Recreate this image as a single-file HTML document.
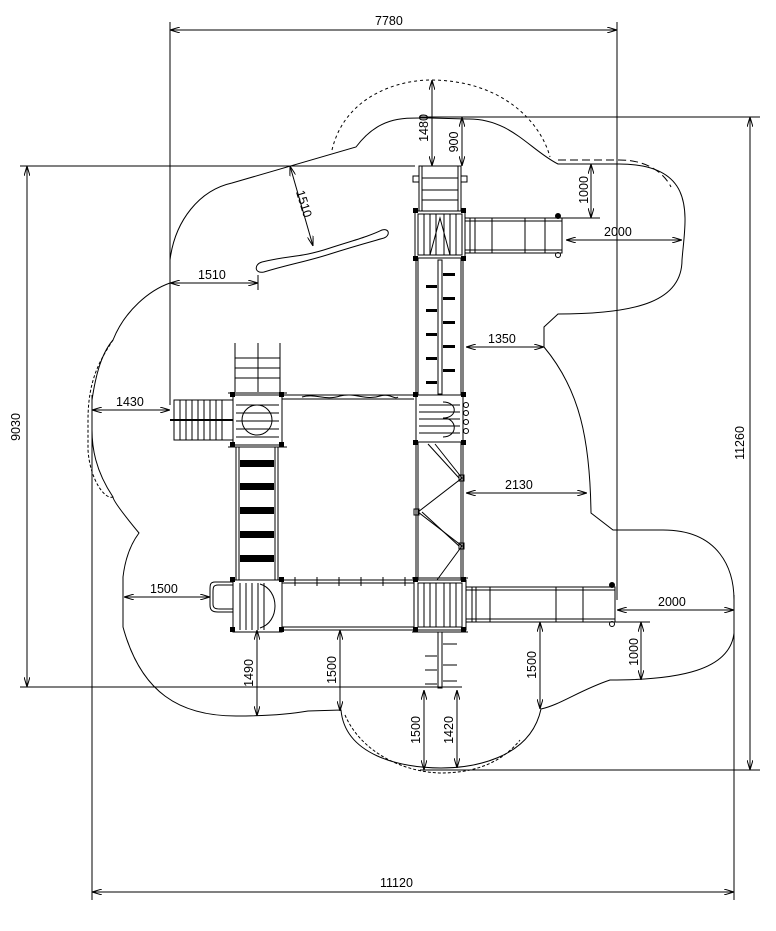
<!DOCTYPE html>
<html><head><meta charset="utf-8"><style>
html,body{margin:0;padding:0;background:#fff;}
svg{display:block;}
text{font-family:"Liberation Sans",sans-serif;font-size:12.5px;fill:#000;}
</style></head><body>
<svg width="776" height="931" viewBox="0 0 776 931" xmlns="http://www.w3.org/2000/svg">
<defs>
<marker id="a" viewBox="0 0 10 6" refX="10" refY="3" markerWidth="10" markerHeight="6" orient="auto-start-reverse" markerUnits="userSpaceOnUse"><path d="M0,0 L10,3 L0,6" fill="none" stroke="#000" stroke-width="1"/></marker>
</defs>
<g fill="none" stroke="#000" stroke-width="1">
<!-- extension lines -->
<line x1="170" y1="22" x2="170" y2="405"/>
<line x1="617" y1="22" x2="617" y2="600"/>
<line x1="20" y1="166" x2="415" y2="166"/>
<line x1="20" y1="687" x2="462" y2="687"/>
<line x1="420" y1="117" x2="760" y2="117"/>
<line x1="420" y1="770" x2="760" y2="770"/>
<line x1="92" y1="395" x2="92" y2="900"/>
<line x1="734" y1="595" x2="734" y2="900"/>
<!-- main dims -->
<line x1="170" y1="30" x2="617" y2="30" marker-start="url(#a)" marker-end="url(#a)"/>
<line x1="27" y1="166" x2="27" y2="687" marker-start="url(#a)" marker-end="url(#a)"/>
<line x1="750" y1="117" x2="750" y2="770" marker-start="url(#a)" marker-end="url(#a)"/>
<line x1="92" y1="892" x2="734" y2="892" marker-start="url(#a)" marker-end="url(#a)"/>

<!-- cloud outline -->
<path d="M356,147 C380,115 405,118 430,118 L467,119 C510,118 530,150 558,164 L619,164 C700,164 685,220 682,260 C682,300 640,314 558,314 L544,327 L544,347 C580,390 590,440 591,513 L613,530 L663,530 C720,530 734,570 734,600 L734,633 C730,670 680,680 610,680 C580,690 560,705 541,709 C530,760 470,768 441,768 C400,768 345,755 341,710 L308,711 C280,716 250,716 236,716 C180,716 141,693 123,627 L123,577 C125,560 130,545 139,533 C120,510 113,500 113,497 C95,470 92,447 92,430 L92,400 C95,380 100,355 113,340 C125,310 150,290 170,283 L170,260 C175,220 200,190 232,183 L356,147 Z"/>
<!-- dashed offsets -->
<path d="M332,150 C345,95 400,80 430,80 C500,80 540,120 550,157" stroke-dasharray="3,3"/>
<path d="M558,160 L619,160 C650,160 665,175 671,187" stroke-dasharray="8,4"/>
<path d="M113,340 C100,360 88,380 88,420 L88,450 C90,480 105,500 113,497" stroke-dasharray="3,2"/>
<path d="M345,715 C360,750 400,772 441,773 C470,773 500,765 520,740" stroke-dasharray="3,2"/>

<!-- handrail snake -->
<path d="M262,262 C290,255 300,258 330,248 C355,240 370,236 382,230 C390,228 390,236 384,238 C370,242 355,246 330,254 C305,262 290,264 264,272 C254,274 254,264 262,262 Z"/>

<!-- TOP TOWER -->
<rect x="419" y="166" width="42" height="45"/>
<line x1="422" y1="166" x2="422" y2="211"/><line x1="458" y1="166" x2="458" y2="211"/>
<line x1="422" y1="178" x2="458" y2="178"/><line x1="422" y1="190" x2="458" y2="190"/><line x1="422" y1="200" x2="458" y2="200"/>
<rect x="413" y="176" width="6" height="6"/><rect x="461" y="176" width="6" height="6"/>
<rect x="415" y="211" width="50" height="47"/>
<rect x="418" y="214" width="44" height="41"/>
<line x1="424" y1="214" x2="424" y2="255"/><line x1="430" y1="214" x2="430" y2="255"/><line x1="436" y1="214" x2="436" y2="255"/><line x1="444" y1="214" x2="444" y2="255"/><line x1="450" y1="214" x2="450" y2="255"/><line x1="456" y1="214" x2="456" y2="255"/>
<path d="M430,255 L440,218 L450,255"/>
<!-- slide top -->
<rect x="465" y="218" width="97" height="35"/>
<line x1="465" y1="221" x2="562" y2="221"/><line x1="465" y1="250" x2="562" y2="250"/>
<line x1="470" y1="218" x2="470" y2="253"/><line x1="475" y1="218" x2="475" y2="253"/><line x1="492" y1="218" x2="492" y2="253"/><line x1="525" y1="218" x2="525" y2="253"/><line x1="545" y1="218" x2="545" y2="253"/>
<circle cx="558" cy="216" r="2.5" fill="#000"/><circle cx="558" cy="255" r="2.5"/>
<!-- climbing wall -->
<line x1="416" y1="258" x2="416" y2="395"/><line x1="463" y1="258" x2="463" y2="395"/>
<line x1="418" y1="258" x2="418" y2="395"/><line x1="461" y1="258" x2="461" y2="395"/>
<rect x="438" y="260" width="4" height="134"/>
</g>
<g fill="#000">
<rect x="443" y="273" width="12" height="3"/><rect x="443" y="297" width="12" height="3"/><rect x="443" y="321" width="12" height="3"/><rect x="443" y="345" width="12" height="3"/><rect x="443" y="369" width="12" height="3"/>
<rect x="426" y="285" width="11" height="3"/><rect x="426" y="309" width="11" height="3"/><rect x="426" y="333" width="11" height="3"/><rect x="426" y="357" width="11" height="3"/><rect x="426" y="381" width="11" height="3"/>
<rect x="413" y="208" width="5" height="5"/><rect x="461" y="208" width="5" height="5"/><rect x="413" y="256" width="5" height="5"/><rect x="461" y="256" width="5" height="5"/>
<rect x="413" y="392" width="5" height="5"/><rect x="461" y="392" width="5" height="5"/><rect x="413" y="440" width="5" height="5"/><rect x="461" y="440" width="5" height="5"/>
<rect x="413" y="577" width="5" height="5"/><rect x="461" y="577" width="5" height="5"/><rect x="413" y="627" width="5" height="5"/><rect x="461" y="627" width="5" height="5"/>
<rect x="230" y="392" width="5" height="5"/><rect x="279" y="392" width="5" height="5"/><rect x="230" y="442" width="5" height="5"/><rect x="279" y="442" width="5" height="5"/>
<rect x="230" y="577" width="5" height="5"/><rect x="279" y="577" width="5" height="5"/><rect x="230" y="627" width="5" height="5"/><rect x="279" y="627" width="5" height="5"/>
<!-- black bars -->
<rect x="240" y="460" width="34" height="7"/><rect x="240" y="483" width="34" height="7"/><rect x="240" y="507" width="34" height="7"/><rect x="240" y="531" width="34" height="7"/><rect x="240" y="555" width="34" height="7"/>
</g>
<g fill="none" stroke="#000" stroke-width="1">
<!-- platform B -->
<rect x="416" y="395" width="47" height="47"/>
<line x1="419" y1="405" x2="460" y2="405"/><line x1="419" y1="412" x2="460" y2="412"/><line x1="419" y1="419" x2="460" y2="419"/><line x1="419" y1="426" x2="460" y2="426"/><line x1="419" y1="433" x2="460" y2="433"/>
<path d="M443,402 C458,402 458,418 443,418 C458,418 458,437 443,437"/>
<circle cx="466" cy="405" r="2.5"/><circle cx="466" cy="413" r="2.5"/><circle cx="466" cy="422" r="2.5"/><circle cx="466" cy="431" r="2.5"/>
<!-- truss -->
<line x1="416" y1="442" x2="416" y2="580"/><line x1="418" y1="442" x2="418" y2="580"/>
<line x1="461" y1="442" x2="461" y2="580"/><line x1="463" y1="442" x2="463" y2="580"/>
<path d="M435,444 L462,478 L418,512 L462,546 L437,580"/>
<path d="M428,444 L459,478 M422,512 L459,546"/>
<rect x="459" y="475" width="5" height="6"/><rect x="414" y="509" width="5" height="6"/><rect x="459" y="543" width="5" height="6"/>
<!-- bottom right platform -->
<rect x="414" y="580" width="52" height="50"/>
<rect x="418" y="583" width="44" height="44"/>
<line x1="424" y1="583" x2="424" y2="627"/><line x1="430" y1="583" x2="430" y2="627"/><line x1="436" y1="583" x2="436" y2="627"/><line x1="444" y1="583" x2="444" y2="627"/><line x1="450" y1="583" x2="450" y2="627"/><line x1="456" y1="583" x2="456" y2="627"/>
<line x1="412" y1="632" x2="468" y2="632"/><line x1="412" y1="578" x2="468" y2="578"/>
<!-- slide bottom -->
<rect x="466" y="587" width="149" height="35"/>
<line x1="466" y1="590" x2="615" y2="590"/><line x1="466" y1="619" x2="615" y2="619"/>
<line x1="472" y1="587" x2="472" y2="622"/><line x1="476" y1="587" x2="476" y2="622"/><line x1="490" y1="587" x2="490" y2="622"/><line x1="556" y1="587" x2="556" y2="622"/><line x1="583" y1="587" x2="583" y2="622"/>
<circle cx="612" cy="585" r="2.5" fill="#000"/><circle cx="612" cy="624" r="2.5"/>
<!-- bottom ladder -->
<rect x="438" y="632" width="4" height="56"/>
<line x1="425" y1="656" x2="437" y2="656"/><line x1="425" y1="670" x2="437" y2="670"/><line x1="425" y1="684" x2="437" y2="684"/>
<line x1="443" y1="644" x2="457" y2="644"/><line x1="443" y1="665" x2="457" y2="665"/><line x1="443" y1="681" x2="457" y2="681"/>
<!-- LEFT TOWER -->
<line x1="235" y1="343" x2="235" y2="392"/><line x1="258" y1="343" x2="258" y2="392"/><line x1="280" y1="343" x2="280" y2="392"/>
<line x1="235" y1="358" x2="280" y2="358"/><line x1="235" y1="368" x2="280" y2="368"/><line x1="235" y1="378" x2="280" y2="378"/>
<rect x="233" y="395" width="49" height="50"/>
<line x1="236" y1="405" x2="279" y2="405"/><line x1="236" y1="413" x2="279" y2="413"/><line x1="236" y1="421" x2="279" y2="421"/><line x1="236" y1="429" x2="279" y2="429"/><line x1="236" y1="437" x2="279" y2="437"/>
<circle cx="257" cy="420" r="15"/>
<line x1="228" y1="393" x2="287" y2="393"/><line x1="228" y1="447" x2="287" y2="447"/>
<!-- steps left -->
<rect x="174" y="400" width="59" height="40"/>
<line x1="180" y1="400" x2="180" y2="440"/><line x1="186" y1="400" x2="186" y2="440"/><line x1="192" y1="400" x2="192" y2="440"/><line x1="198" y1="400" x2="198" y2="440"/><line x1="204" y1="400" x2="204" y2="440"/><line x1="210" y1="400" x2="210" y2="440"/><line x1="216" y1="400" x2="216" y2="440"/><line x1="222" y1="400" x2="222" y2="440"/>
<line x1="170" y1="420" x2="233" y2="420" stroke-width="2"/>
<!-- bridge left -->
<line x1="236" y1="447" x2="236" y2="580"/><line x1="239" y1="447" x2="239" y2="580"/>
<line x1="275" y1="447" x2="275" y2="580"/><line x1="278" y1="447" x2="278" y2="580"/>
<!-- bottom left platform -->
<rect x="233" y="580" width="49" height="52"/>
<line x1="240" y1="583" x2="240" y2="630"/><line x1="246" y1="583" x2="246" y2="630"/><line x1="252" y1="583" x2="252" y2="630"/><line x1="258" y1="583" x2="258" y2="630"/><line x1="264" y1="583" x2="264" y2="630"/>
<path d="M260,584 C280,590 280,622 260,628"/>
<path d="M233,582 L215,582 C210,582 210,585 210,590 L210,605 C210,610 212,612 218,612 L233,612"/>
<path d="M233,585 L218,585 C213,585 213,588 213,592 L213,604 C213,608 215,609 220,609 L233,609"/>
<!-- top rope bridge -->
<line x1="282" y1="395" x2="414" y2="395"/><line x1="282" y1="399" x2="414" y2="399"/>
<path d="M302,397 C315,393 325,401 340,396 C355,392 365,401 380,396 C390,393 395,400 398,397"/>
<!-- bottom bridge -->
<line x1="282" y1="580" x2="414" y2="580"/><line x1="282" y1="583" x2="414" y2="583"/>
<line x1="282" y1="627" x2="414" y2="627"/><line x1="282" y1="630" x2="414" y2="630"/>
<line x1="295" y1="577" x2="295" y2="586"/><line x1="317" y1="577" x2="317" y2="586"/><line x1="339" y1="577" x2="339" y2="586"/><line x1="361" y1="577" x2="361" y2="586"/><line x1="383" y1="577" x2="383" y2="586"/><line x1="405" y1="577" x2="405" y2="586"/>

<!-- small dims -->
<line x1="432" y1="80" x2="432" y2="166" marker-start="url(#a)" marker-end="url(#a)"/>
<line x1="462" y1="117" x2="462" y2="166" marker-start="url(#a)" marker-end="url(#a)"/>
<line x1="591" y1="164" x2="591" y2="218" marker-start="url(#a)" marker-end="url(#a)"/>
<line x1="560" y1="218" x2="600" y2="218"/>
<line x1="566" y1="240" x2="682" y2="240" marker-start="url(#a)" marker-end="url(#a)"/>
<line x1="290" y1="166" x2="313" y2="246" marker-start="url(#a)" marker-end="url(#a)"/>
<line x1="170" y1="283" x2="258" y2="283" marker-start="url(#a)" marker-end="url(#a)"/>
<line x1="258" y1="275" x2="258" y2="290"/>
<line x1="466" y1="347" x2="544" y2="347" marker-start="url(#a)" marker-end="url(#a)"/>
<line x1="92" y1="410" x2="170" y2="410" marker-start="url(#a)" marker-end="url(#a)"/>
<line x1="466" y1="493" x2="587" y2="493" marker-start="url(#a)" marker-end="url(#a)"/>
<line x1="124" y1="597" x2="210" y2="597" marker-start="url(#a)" marker-end="url(#a)"/>
<line x1="617" y1="610" x2="734" y2="610" marker-start="url(#a)" marker-end="url(#a)"/>
<line x1="615" y1="622" x2="650" y2="622"/>
<line x1="641" y1="622" x2="641" y2="680" marker-start="url(#a)" marker-end="url(#a)"/>
<line x1="257" y1="630" x2="257" y2="716" marker-start="url(#a)" marker-end="url(#a)"/>
<line x1="340" y1="630" x2="340" y2="711" marker-start="url(#a)" marker-end="url(#a)"/>
<line x1="540" y1="622" x2="540" y2="709" marker-start="url(#a)" marker-end="url(#a)"/>
<line x1="424" y1="690" x2="424" y2="770" marker-start="url(#a)" marker-end="url(#a)"/>
<line x1="457" y1="690" x2="457" y2="768" marker-start="url(#a)" marker-end="url(#a)"/>
</g>

<!-- labels -->
<text x="375" y="25">7780</text>
<text x="380" y="887">11120</text>
<text transform="translate(20,427) rotate(-90)" text-anchor="middle">9030</text>
<text transform="translate(744,443) rotate(-90)" text-anchor="middle">11260</text>
<text transform="translate(428,128) rotate(-90)" text-anchor="middle">1480</text>
<text transform="translate(458,142) rotate(-90)" text-anchor="middle">900</text>
<text transform="translate(588,190) rotate(-90)" text-anchor="middle">1000</text>
<text x="604" y="236">2000</text>
<text transform="translate(300,205) rotate(73)" text-anchor="middle">1510</text>
<text x="198" y="279">1510</text>
<text x="488" y="343">1350</text>
<text x="116" y="406">1430</text>
<text x="505" y="489">2130</text>
<text x="150" y="593">1500</text>
<text x="658" y="606">2000</text>
<text transform="translate(638,652) rotate(-90)" text-anchor="middle">1000</text>
<text transform="translate(253,673) rotate(-90)" text-anchor="middle">1490</text>
<text transform="translate(336,670) rotate(-90)" text-anchor="middle">1500</text>
<text transform="translate(536,665) rotate(-90)" text-anchor="middle">1500</text>
<text transform="translate(420,730) rotate(-90)" text-anchor="middle">1500</text>
<text transform="translate(453,730) rotate(-90)" text-anchor="middle">1420</text>
</svg>
</body></html>
